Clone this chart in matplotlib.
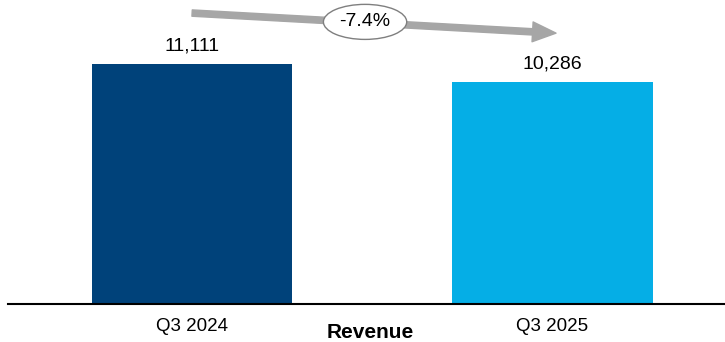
import numpy as np
import matplotlib
matplotlib.use("Agg")
from matplotlib import pyplot as plt

plt.rcParams['font.family'] = ['Liberation Sans', 'DejaVu Sans']

periods = ["Q3 2024", "Q3 2025"]
revenue = [11111, 10286]
colors = ["#00427A", "#05AEE6"]

change = (revenue[1] / revenue[0] - 1) * 100

fig = plt.figure(figsize=(7.25, 3.42), dpi=100)
ax = fig.add_axes([8 / 725, 38 / 342, 717 / 725, 304 / 342])

x = np.arange(len(periods))
ax.bar(x, revenue, width=0.556, color=colors)
for xi, v in zip(x, revenue):
    ax.text(xi, v + 420, f"{v:,}", ha="center", va="bottom", fontsize=14)

ax.set_xlim(-0.511, 1.479)
ax.set_ylim(0, 14074)
for s in ["top", "right", "left"]:
    ax.spines[s].set_visible(False)
ax.spines["bottom"].set_linewidth(1.5)
ax.set_yticks([])
ax.set_xticks(x)
ax.set_xticklabels(periods, fontsize=13.5)
ax.tick_params(axis="x", length=0, pad=10)
fig.text(370 / 725, 9 / 342, "Revenue", ha="center", va="center",
         fontsize=15, fontweight="bold")

# trend arrow between the two bars
ax.annotate("", xy=(1.01, 0.891), xytext=(0.0, 0.957),
            xycoords=("data", "axes fraction"), textcoords=("data", "axes fraction"),
            arrowprops=dict(arrowstyle="simple,head_width=1.1,head_length=1.3,tail_width=0.35",
                        color="#A6A6A6", mutation_scale=13, shrinkA=0, shrinkB=0),
            annotation_clip=False)
ax.text(0.48, 0.928, f"{change:.1f}%", transform=ax.get_xaxis_transform(),
        ha="center", va="center", fontsize=14,
        bbox=dict(boxstyle="ellipse,pad=0.2", fc="white", ec="#7F7F7F", lw=1))

fig.savefig("out.png", dpi=100)
